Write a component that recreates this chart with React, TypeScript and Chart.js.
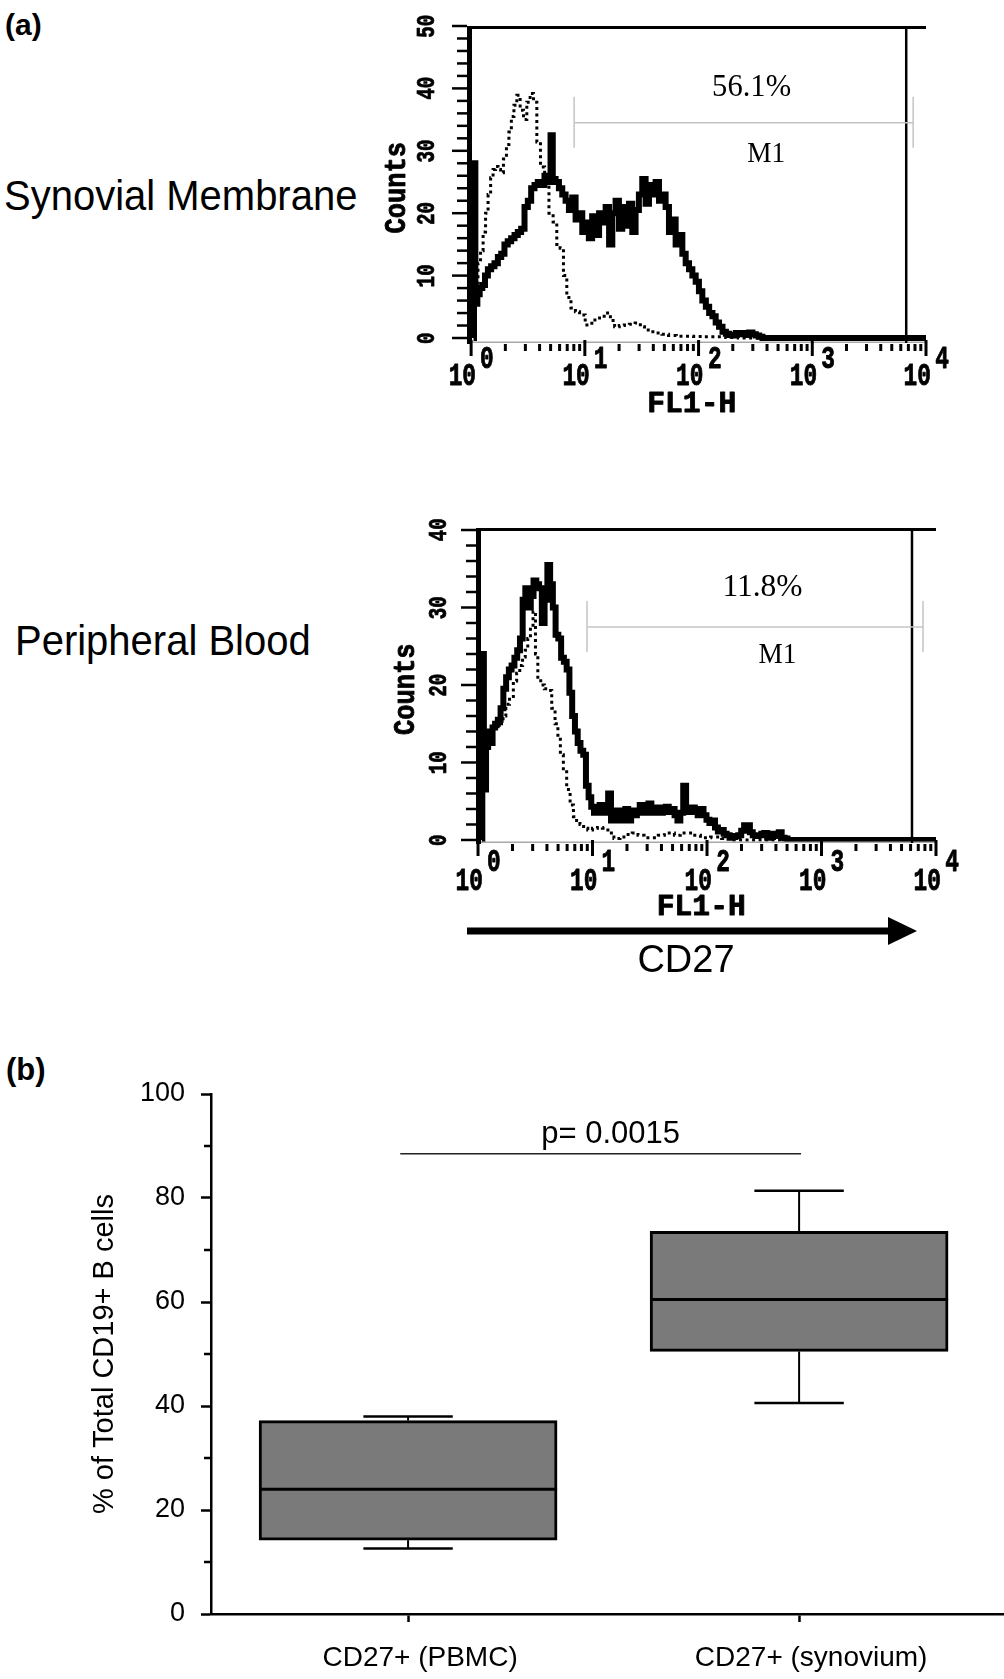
import React, { useEffect, useRef } from 'react';
import { Chart, registerables } from 'chart.js';

Chart.register(...registerables);

// ---------------- Data: panel (a) flow histograms ----------------
// Synovial membrane, CD27 stained (thick solid)
const smSolidX = [1.05, 1.07, 1.11, 1.16, 1.22, 1.29, 1.36, 1.45, 1.55, 1.66, 1.78, 1.9, 2.03, 2.17, 2.33, 2.49, 2.66, 2.85, 3.05, 3.26, 3.49, 3.73, 3.99, 4.27, 4.57, 4.89, 5.1, 5.35, 5.72, 6.12, 6.55, 7.0, 7.5, 8.0, 8.6, 9.2, 9.8, 10.5, 11.2, 12.0, 12.9, 13.8, 14.7, 15.8, 16.9, 18.0, 19.3, 20.6, 22.1, 23.6, 25.3, 27.0, 28.9, 30.9, 33.1, 35.4, 37.9, 40.5, 43.4, 46.4, 49.6, 53.1, 56.8, 60.8, 65, 69.6, 74.5, 79.7, 85.3, 91.2, 97.6, 104, 112, 120, 128, 137, 146, 157, 168, 180, 192, 206, 220, 235, 252, 269, 288, 308, 330, 353, 377, 10000];
const smSolidY = [0, 28, 5.5, 7, 8, 8.5, 10, 11, 11.5, 12, 13, 13.5, 15, 15.5, 16, 16.5, 17, 17.5, 21, 22, 24, 24.5, 25, 24.5, 26, 25, 32.5, 25.5, 25, 24, 23, 22, 20.5, 22.5, 19, 20, 17, 18.5, 16, 19.5, 16.5, 20, 18.5, 21, 15, 20, 22, 17.5, 21, 18, 21.5, 17, 20.5, 23, 25.5, 21.5, 24.5, 23, 25, 22, 23, 21, 17, 19, 15, 16.5, 13.5, 12, 11, 10, 9, 7.5, 6, 5, 4, 3.5, 2.5, 1.8, 1.0, 0.7, 0.5, 0.4, 0.8, 0.6, 0.8, 0.5, 0.9, 0.6, 0.4, 0.2, 0, 0];
// Synovial membrane, isotype control (dotted)
const smIsoX = [1.06, 1.12, 1.18, 1.24, 1.31, 1.37, 1.45, 1.52, 1.6, 1.68, 1.77, 1.86, 1.99, 2.1, 2.2, 2.32, 2.44, 2.61, 2.79, 2.99, 3.19, 3.42, 3.66, 3.91, 4.24, 4.63, 5.05, 5.48, 5.86, 6.27, 6.71, 7.18, 7.94, 8.6, 9.4, 10.8, 12.3, 13.4, 14.6, 16.1, 17.5, 19.1, 21.1, 23.4, 25.9, 29.6, 32, 35, 40, 44.4, 51, 58.2, 70, 81.5, 100, 115, 150, 200, 250, 10000];
const smIsoY = [5, 8, 12, 14, 17, 20, 23, 25.7, 27, 27.5, 27, 26.5, 28.7, 31, 33, 35.5, 37.3, 38.9, 36.5, 35, 37.8, 39.2, 37.8, 31.4, 27.4, 25, 20, 18.6, 15, 14.4, 10, 6.5, 4.8, 4.2, 3.7, 2.1, 2.9, 3.2, 3.5, 4, 2.8, 1.8, 2, 2.1, 2.2, 2.4, 1.8, 1.3, 1.0, 0.8, 0.6, 0.4, 0.3, 0.3, 0.25, 0.2, 0.2, 0.1, 0, 0];
// Peripheral blood, CD27 stained (thick solid)
const pbSolidX = [1.08, 1.1, 1.15, 1.2, 1.25, 1.31, 1.37, 1.45, 1.53, 1.62, 1.71, 1.81, 1.91, 2.02, 2.14, 2.26, 2.39, 2.52, 2.66, 2.81, 2.97, 3.14, 3.32, 3.51, 3.71, 3.92, 4.15, 4.38, 4.63, 4.89, 5.17, 5.47, 5.78, 6.11, 6.46, 6.83, 7.22, 7.63, 8.07, 8.53, 9.0, 9.5, 10.0, 10.6, 11.2, 11.9, 12.6, 13.3, 14.1, 14.9, 15.8, 16.7, 17.7, 18.8, 19.9, 21.1, 22.4, 23.7, 25.1, 26.6, 28.2, 29.9, 31.7, 33.6, 35.6, 37.7, 40, 42.4, 45, 47.7, 50.6, 53.6, 56.8, 60.2, 63.8, 67.6, 71.7, 76, 80.5, 85.4, 90.5, 96, 102, 108, 114, 121, 128, 136, 144, 153, 162, 172, 182, 193, 205, 217, 230, 244, 258, 274, 290, 307, 326, 345, 366, 388, 411, 436, 462, 490, 520, 10000];
const pbSolidY = [0, 24, 6.5, 12, 14, 12.5, 14.5, 15, 15.5, 17, 19.5, 21, 22, 22.5, 23.5, 24.5, 26, 31, 32.5, 30, 31.5, 33.5, 33, 32.5, 28, 31, 35.5, 33, 30, 26.5, 26, 23.5, 23, 22, 19, 16, 14, 12.5, 11.5, 11, 7, 5.5, 4.3, 3.5, 4, 4.5, 3.5, 4, 6, 2.5, 3, 3.8, 2.5, 3.6, 4, 2.5, 3.8, 3.2, 3.8, 4.5, 3.5, 4, 4.7, 3.5, 3.8, 4.2, 3.5, 3.8, 4.3, 3.6, 4, 3.2, 2.5, 3.5, 7, 4, 3.6, 4.2, 3.8, 3.2, 4, 3.2, 2.6, 2.2, 2.5, 1.6, 1.1, 1.3, 0.8, 0.6, 0.3, 0.4, 0.5, 0.6, 1.2, 1.9, 1.9, 1.0, 0.6, 0.5, 0.6, 0.8, 0.9, 0.3, 0.4, 0.8, 0.5, 1.0, 0.3, 0.2, 0, 0];
// Peripheral blood, isotype control (dotted)
const pbIsoX = [1.1, 1.15, 1.22, 1.28, 1.4, 1.52, 1.61, 1.7, 1.8, 1.97, 2.1, 2.25, 2.38, 2.52, 2.65, 2.79, 2.95, 3.1, 3.25, 3.41, 3.65, 3.95, 4.26, 4.55, 4.87, 5.1, 5.38, 5.75, 6.15, 6.6, 7.03, 7.5, 8.04, 8.7, 9.5, 10.5, 11.6, 12.8, 14.5, 16.3, 18.5, 21, 23.5, 26.5, 30, 35.2, 40, 45, 49, 55, 62, 68.8, 80, 96, 120, 150, 180, 10000];
const pbIsoY = [8, 11, 13.5, 14.6, 14.6, 14.6, 15, 16, 17.5, 18.5, 20.5, 21.5, 22.5, 23.6, 24.5, 26, 27.5, 29.5, 24, 21, 20, 19.5, 19.3, 17, 15, 13, 11, 9, 6.5, 4.5, 3, 2.5, 2, 1.5, 1.3, 1.5, 1.6, 1.5, 0.9, 0.2, 0.4, 0.7, 0.9, 0.6, 0.3, 0.3, 0.6, 0.9, 0.9, 0.6, 0.9, 0.9, 0.6, 0.3, 0.4, 0.2, 0, 0];

// M1 gates: [from, to, level in counts]
const smGate = [8.05, 7710, 34.5];
const pbGate = [8.95, 7700, 27.5];
const smPercent = '56.1%';
const pbPercent = '11.8%';
const gateName = 'M1';
const smRightEdge = 6700;
const pbRightEdge = 6170;
const smCountTicks = [0, 10, 20, 30, 40, 50];
const pbCountTicks = [0, 10, 20, 30, 40];
const facsDecades = [0, 1, 2, 3, 4];
const facsXLabel = 'FL1-H';
const facsYLabel = 'Counts';

const panelA = '(a)';
const panelB = '(b)';
const rowLabels = ['Synovial Membrane', 'Peripheral Blood'];
const markerLabel = 'CD27';

// ---------------- Data: panel (b) box plot ----------------
const boxCategories = ['CD27+ (PBMC)', 'CD27+ (synovium)'];
const boxMin = [12.6, 40.6];
const boxQ1 = [14.2, 50.5];
const boxMedian = [24.0, 60.5];
const boxQ3 = [37.2, 73.6];
const boxMax = [38.0, 81.4];
const boxYTicks = [0, 20, 40, 60, 80, 100];
const boxMinorTicks = [10, 30, 50, 70, 90];
const boxYTitle = '% of Total CD19+ B cells';
const pValueText = 'p= 0.0015';
const pLine = [0.98, 2.005, 88.5];

// ---------------- helpers ----------------
const MONO = '"Liberation Mono", "Courier New", monospace';
const SERIF = '"Liberation Serif", "Times New Roman", serif';
const SANS = '"Liberation Sans", Arial, Helvetica, sans-serif';

const zip = (xs: number[], ys: number[]) => xs.map((x, i) => ({ x, y: ys[i] }));

function glyphBox(ctx: CanvasRenderingContext2D, text: string) {
  const m = ctx.measureText(text);
  return { l: m.actualBoundingBoxLeft, r: m.actualBoundingBoxRight, a: m.actualBoundingBoxAscent, d: m.actualBoundingBoxDescent };
}
function fitScale(ctx: CanvasRenderingContext2D, font: string, sample: string, w: number, h: number) {
  ctx.save();
  ctx.font = font;
  const b = glyphBox(ctx, sample);
  ctx.restore();
  return { sx: w / (b.l + b.r), sy: h / (b.a + b.d) };
}
function drawGlyphs(ctx: CanvasRenderingContext2D, text: string, cx: number, cy: number, font: string, sx: number, sy: number, rot = 0, heavy = 0) {
  ctx.save();
  ctx.translate(cx, cy);
  if (rot) ctx.rotate(rot);
  ctx.scale(sx, sy);
  ctx.font = font;
  ctx.textAlign = 'left';
  ctx.textBaseline = 'alphabetic';
  const b = glyphBox(ctx, text);
  const x0 = (b.l - b.r) / 2;
  const y0 = (b.a - b.d) / 2;
  ctx.fillText(text, x0, y0);
  if (heavy > 0) {
    ctx.lineWidth = heavy;
    ctx.lineJoin = 'round';
    ctx.strokeStyle = ctx.fillStyle as string;
    ctx.strokeText(text, x0, y0);
  }
  ctx.restore();
}

interface FacsSpec {
  solid: { x: number; y: number }[];
  iso: { x: number; y: number }[];
  gate: number[];
  pct: string;
  rightEdge: number;
  yTicks: number[];
  xMin: number;
  yMin: number;
  yMax: number;
  pad: { left: number; right: number; top: number; bottom: number };
  look: { yLabelDx: number; countsDy: number; tenDy: number; expDy: number; flDy: number; pctDy: number; m1Dy: number };
}

function facsPlugin(spec: FacsSpec) {
  return {
    id: 'facsFrame',
    afterDraw(chart: any) {
      const ctx: CanvasRenderingContext2D = chart.ctx;
      const { left, right, top, bottom } = chart.chartArea;
      const xs = chart.scales.x;
      const ys = chart.scales.y;
      const L = spec.look;
      const seg = (x1: number, y1: number, x2: number, y2: number) => {
        ctx.beginPath();
        ctx.moveTo(x1, y1);
        ctx.lineTo(x2, y2);
        ctx.stroke();
      };
      ctx.save();
      ctx.lineCap = 'butt';
      // baseline
      ctx.strokeStyle = '#a8a8a8';
      ctx.lineWidth = 1.5;
      seg(left, bottom - 0.75, right, bottom - 0.75);
      // x ticks
      ctx.strokeStyle = '#000';
      ctx.lineWidth = 3;
      facsDecades.forEach((d, i) => {
        const major = Math.pow(10, d);
        const px = xs.getPixelForValue(major);
        seg(px, bottom - 3, px, bottom + 13);
        if (i < facsDecades.length - 1) {
          for (let m = 2; m <= 9; m++) {
            const p = xs.getPixelForValue(m * major);
            seg(p, bottom + 1, p, bottom + 8);
          }
        }
      });
      // y ticks every 2 counts
      ctx.lineWidth = 2.5;
      const yTop = spec.yTicks[spec.yTicks.length - 1];
      for (let v = 0; v <= yTop; v += 2) {
        const py = ys.getPixelForValue(v);
        const len = v % 10 === 0 ? 15 : 10;
        seg(left - len, py, left, py);
      }
      // frame
      ctx.lineWidth = 5;
      seg(left + 2.5, top, left + 2.5, bottom + 1);
      ctx.lineWidth = 3;
      seg(left, top + 1.5, right, top + 1.5);
      const rx = xs.getPixelForValue(spec.rightEdge);
      ctx.lineWidth = 2.5;
      seg(rx, top, rx, bottom);
      // gate M1
      const [g0, g1, gl] = spec.gate;
      const gx0 = xs.getPixelForValue(g0);
      const gx1 = xs.getPixelForValue(g1);
      const gy = ys.getPixelForValue(gl);
      ctx.strokeStyle = '#c4c4c4';
      ctx.lineWidth = 1.5;
      seg(gx0, gy, gx1, gy);
      seg(gx0, gy - 26, gx0, gy + 25);
      seg(gx1, gy - 26, gx1, gy + 25);
      // texts
      ctx.fillStyle = '#000';
      const gcx = (gx0 + gx1) / 2;
      const serifFont = `30px ${SERIF}`;
      let s = fitScale(ctx, serifFont, spec.pct, 77, 20);
      drawGlyphs(ctx, spec.pct, gcx + 8, gy + L.pctDy, serifFont, s.sx, s.sy);
      s = fitScale(ctx, serifFont, gateName, 37, 18);
      drawGlyphs(ctx, gateName, gcx + 22, gy + L.m1Dy, serifFont, s.sx, s.sy);

      const monoFont = `bold 24px ${MONO}`;
      const heavy = 0.7;
      const ten = fitScale(ctx, monoFont, '10', 26, 21);
      facsDecades.forEach((d) => {
        const px = xs.getPixelForValue(Math.pow(10, d));
        drawGlyphs(ctx, '10', px - 8.5, bottom + L.tenDy, monoFont, ten.sx, ten.sy, 0, heavy);
        drawGlyphs(ctx, String(d), px + 16, bottom + L.expDy, monoFont, ten.sx, ten.sy, 0, heavy);
      });
      const yl = fitScale(ctx, monoFont, '50', 22, 17);
      spec.yTicks.forEach((v) => {
        drawGlyphs(ctx, String(v), left - L.yLabelDx, ys.getPixelForValue(v), monoFont, yl.sx, yl.sy, -Math.PI / 2, heavy);
      });
      const cs = fitScale(ctx, monoFont, facsYLabel, 90, 20);
      drawGlyphs(ctx, facsYLabel, left - 72, (top + bottom) / 2 + L.countsDy, monoFont, cs.sx, cs.sy, -Math.PI / 2, heavy);
      const fs = fitScale(ctx, monoFont, facsXLabel, 86, 20);
      drawGlyphs(ctx, facsXLabel, (left + right) / 2 - 5, bottom + L.flDy, monoFont, fs.sx, fs.sy, 0, heavy);
      ctx.restore();
    },
  };
}

function makeFacs(canvas: HTMLCanvasElement, spec: FacsSpec) {
  return new Chart(canvas, {
    type: 'line',
    data: {
      datasets: [
        { data: spec.iso, borderColor: '#000', borderWidth: 3, borderDash: [3, 3.5], stepped: 'middle', pointRadius: 0, fill: false },
        { data: spec.solid, borderColor: '#000', borderWidth: 6, stepped: 'middle', pointRadius: 0, fill: false },
      ],
    } as any,
    options: {
      animation: false,
      responsive: false,
      devicePixelRatio: 1,
      events: [],
      layout: { padding: spec.pad },
      plugins: { legend: { display: false }, tooltip: { enabled: false } },
      scales: {
        x: { type: 'logarithmic', min: spec.xMin, max: 10000, display: false },
        y: { type: 'linear', min: spec.yMin, max: spec.yMax, display: false },
      },
    } as any,
    plugins: [facsPlugin(spec)],
  });
}

const boxPlugin = {
  id: 'boxExtras',
  afterDatasetsDraw(chart: any) {
    const ctx: CanvasRenderingContext2D = chart.ctx;
    const xs = chart.scales.x;
    const ys = chart.scales.y;
    const meta = chart.getDatasetMeta(0);
    const seg = (x1: number, y1: number, x2: number, y2: number) => {
      ctx.beginPath();
      ctx.moveTo(x1, y1);
      ctx.lineTo(x2, y2);
      ctx.stroke();
    };
    ctx.save();
    ctx.strokeStyle = '#000';
    ctx.lineCap = 'butt';
    boxMedian.forEach((med, i) => {
      const bar = meta.data[i];
      const cx = bar.x;
      const half = bar.width / 2;
      const q1 = ys.getPixelForValue(boxQ1[i]);
      const q3 = ys.getPixelForValue(boxQ3[i]);
      const lo = ys.getPixelForValue(boxMin[i]);
      const hi = ys.getPixelForValue(boxMax[i]);
      const mp = ys.getPixelForValue(med);
      ctx.lineWidth = 3;
      seg(cx - half, mp, cx + half, mp);
      ctx.lineWidth = 2;
      seg(cx, q3, cx, hi);
      seg(cx, q1, cx, lo);
      const cw = half * 0.3;
      ctx.lineWidth = 2.5;
      seg(cx - cw, hi, cx + cw, hi);
      seg(cx - cw, lo, cx + cw, lo);
    });
    const left = chart.chartArea.left;
    ctx.lineWidth = 2.5;
    boxMinorTicks.forEach((v) => {
      const py = ys.getPixelForValue(v);
      seg(left - 7, py, left, py);
    });
    // significance bar
    const px0 = xs.getPixelForValue(pLine[0]);
    const px1 = xs.getPixelForValue(pLine[1]);
    const py = ys.getPixelForValue(pLine[2]);
    ctx.strokeStyle = '#222';
    ctx.lineWidth = 1.5;
    seg(px0, py, px1, py);
    ctx.fillStyle = '#000';
    ctx.font = `31px ${SANS}`;
    ctx.textAlign = 'center';
    ctx.textBaseline = 'alphabetic';
    ctx.fillText(pValueText, (px0 + px1) / 2 + 10, py - 11);
    ctx.restore();
  },
};

function makeBox(canvas: HTMLCanvasElement) {
  return new Chart(canvas, {
    type: 'bar',
    data: {
      datasets: [
        {
          data: boxCategories.map((_, i) => ({ x: i + 1, y: [boxQ1[i], boxQ3[i]] })),
          backgroundColor: '#7a7a7a',
          borderColor: '#000',
          borderWidth: 3,
          borderSkipped: false,
          barThickness: 298,
        },
      ],
    } as any,
    options: {
      animation: false,
      responsive: false,
      devicePixelRatio: 1,
      events: [],
      layout: { padding: { left: 88, top: 54, right: 0, bottom: 0 } },
      plugins: { legend: { display: false }, tooltip: { enabled: false } },
      scales: {
        x: {
          type: 'linear',
          min: 0.496,
          max: 2.524,
          offset: false,
          afterBuildTicks: (s: any) => {
            s.ticks = boxCategories.map((_, i) => ({ value: i + 1 }));
          },
          afterFit: (s: any) => {
            s.height = 65;
          },
          ticks: {
            callback: (v: any) => boxCategories[Math.round(Number(v)) - 1] ?? '',
            font: { size: 28, family: SANS },
            color: '#000',
            padding: 19,
            labelOffset: 12,
            autoSkip: false,
            maxRotation: 0,
            minRotation: 0,
          },
          grid: { offset: false, drawOnChartArea: false, drawTicks: true, tickLength: 8, tickWidth: 2.5, tickColor: '#000', color: '#000' },
          border: { display: true, color: '#000', width: 2.5 },
        },
        y: {
          type: 'linear',
          min: 0,
          max: 100,
          afterBuildTicks: (s: any) => {
            s.ticks = boxYTicks.map((v) => ({ value: v }));
          },
          afterFit: (s: any) => {
            s.width = 123;
          },
          ticks: { font: { size: 27, family: SANS }, color: '#000', padding: 16 },
          grid: { offset: false, drawOnChartArea: false, drawTicks: true, tickLength: 10, tickWidth: 2.5, tickColor: '#000', color: '#000' },
          border: { display: true, color: '#000', width: 2.5 },
          title: { display: true, text: boxYTitle, font: { size: 29, family: SANS }, color: '#000', padding: 0 },
        },
      },
    } as any,
    plugins: [boxPlugin],
  });
}

const smSpec: FacsSpec = {
  solid: zip(smSolidX, smSolidY),
  iso: zip(smIsoX, smIsoY),
  gate: smGate,
  pct: smPercent,
  rightEdge: smRightEdge,
  yTicks: smCountTicks,
  xMin: 0.92,
  yMin: -0.8,
  yMax: 50,
  pad: { left: 107, right: 34, top: 26, bottom: 77 },
  look: { yLabelDx: 42, countsDy: 4, tenDy: 31, expDy: 14.5, flDy: 59, pctDy: -37, m1Dy: 30 },
};

const pbSpec: FacsSpec = {
  solid: zip(pbSolidX, pbSolidY),
  iso: zip(pbIsoX, pbIsoY),
  gate: pbGate,
  pct: pbPercent,
  rightEdge: pbRightEdge,
  yTicks: pbCountTicks,
  xMin: 0.96,
  yMin: -0.39,
  yMax: 40.26,
  pad: { left: 116, right: 24, top: 28, bottom: 77 },
  look: { yLabelDx: 39, countsDy: 4.5, tenDy: 36, expDy: 17, flDy: 62, pctDy: -41, m1Dy: 27 },
};

export default function App() {
  const topRef = useRef<HTMLCanvasElement>(null);
  const botRef = useRef<HTMLCanvasElement>(null);
  const boxRef = useRef<HTMLCanvasElement>(null);

  useEffect(() => {
    document.body.style.margin = '0';
    const charts = [makeFacs(topRef.current!, smSpec), makeFacs(botRef.current!, pbSpec), makeBox(boxRef.current!)];
    return () => charts.forEach((c) => c.destroy());
  }, []);

  const abs = (left: number, top: number): React.CSSProperties => ({ position: 'absolute', left, top, whiteSpace: 'nowrap', color: '#000' });

  return (
    <div style={{ position: 'absolute', left: 0, top: 0, width: 1004, height: 1679, background: '#fff', overflow: 'hidden', fontFamily: SANS }}>
      <div style={{ ...abs(5, 10), font: `bold 30px ${SANS}`, lineHeight: '30px' }}>{panelA}</div>
      <div style={{ ...abs(4, 174), font: `43px ${SANS}`, lineHeight: '43px', transform: 'scaleX(0.93)', transformOrigin: 'left top' }}>{rowLabels[0]}</div>
      <div style={{ ...abs(15, 619), font: `43px ${SANS}`, lineHeight: '43px', transform: 'scaleX(0.93)', transformOrigin: 'left top' }}>{rowLabels[1]}</div>
      <canvas ref={topRef} width={600} height={420} style={{ position: 'absolute', left: 360, top: 0, display: 'block' }} />
      <canvas ref={botRef} width={600} height={420} style={{ position: 'absolute', left: 360, top: 500, display: 'block' }} />
      <svg width={480} height={50} style={{ position: 'absolute', left: 460, top: 910 }}>
        <line x1={7} y1={21} x2={430} y2={21} stroke="#000" strokeWidth={7} />
        <polygon points="428,7 457,21 428,35" fill="#000" />
      </svg>
      <div style={{ ...abs(586, 940), width: 200, textAlign: 'center', font: `38px ${SANS}`, lineHeight: '38px' }}>{markerLabel}</div>
      <div style={{ ...abs(6, 1054), font: `bold 31px ${SANS}`, lineHeight: '31px' }}>{panelB}</div>
      <canvas ref={boxRef} width={1004} height={639} style={{ position: 'absolute', left: 0, top: 1040, display: 'block' }} />
    </div>
  );
}
